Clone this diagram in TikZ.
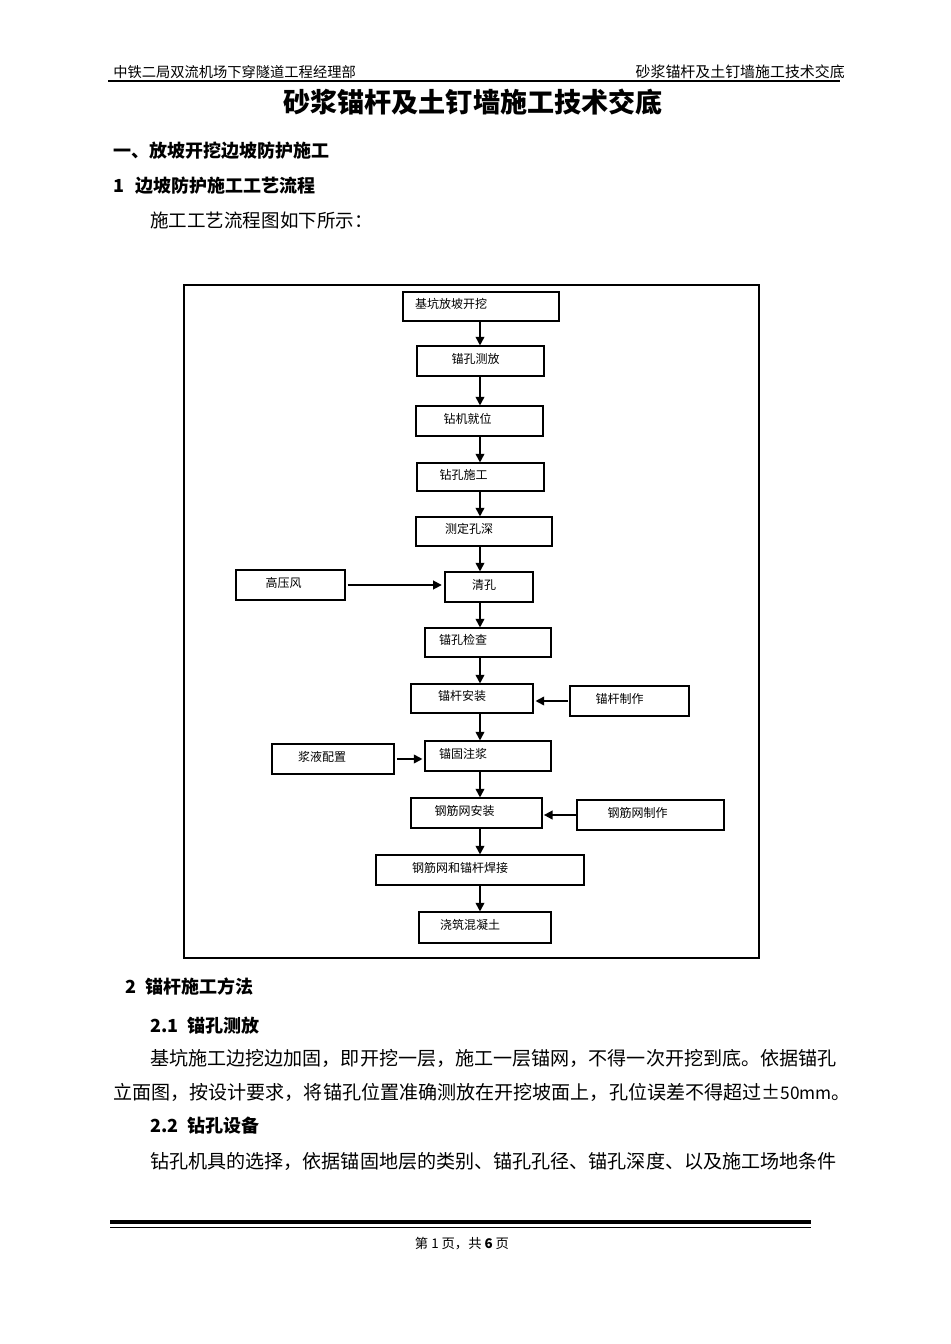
\documentclass[tikz,border=0pt]{standalone}
\usepackage{fontspec}
\setmainfont{Noto Sans CJK SC}
\usetikzlibrary{arrows.meta}

\begin{document}
\begin{tikzpicture}[x=0.75pt,y=-0.75pt,
    flowbox/.style={draw,line width=0.8pt,inner sep=0pt,text height=7pt,text depth=4pt,
        font=\fontsize{9}{10}\selectfont},
    padright/.style={execute at end node={\hspace*{#1}}},
    flowline/.style={->,line width=1.3pt},
    >={Triangle[length=6.5pt,width=6.5pt]},
    body/.style={anchor=west,inner sep=0pt,font=\fontsize{14.3}{16}\selectfont},
    heading/.style={anchor=west,inner sep=0pt,font=\fontsize{13.5}{16}\selectfont\bfseries}]
\useasboundingbox (0,0) rectangle (950,1344);

% page header
\node[anchor=west,inner sep=0pt,font=\fontsize{10.7}{12}\selectfont] (headleft) at (113,72) {中铁二局双流机场下穿隧道工程经理部};
\node[anchor=east,inner sep=0pt,font=\fontsize{11.2}{12}\selectfont] (headright) at (845,72) {砂浆锚杆及土钉墙施工技术交底};
\draw[line width=1.5pt] (108,81) -- (840,81);

\node[inner sep=0pt,font=\fontsize{20.3}{24}\selectfont\bfseries] (title) at (473,102) {砂浆锚杆及土钉墙施工技术交底};

\node[heading] (sec1) at (113,151) {一、放坡开挖边坡防护施工};
\node[heading] (sec11) at (113,186) {1\hspace{0.6em}边坡防护施工工艺流程};
\node[body,font=\fontsize{13.9}{16}\selectfont] (intro) at (150,220) {施工工艺流程图如下所示：};

% flow chart
\draw[line width=0.8pt] (184,285) rectangle (759,958);
\coordinate (spine) at (480,300);

\node[flowbox,minimum width=117pt,minimum height=21.75pt,padright=45pt] (kaiwa) at (481,306.5) {基坑放坡开挖};
\node[flowbox,minimum width=95.25pt,minimum height=22.5pt,padright=7.5pt] (cefang) at (480.5,361) {锚孔测放};
\node[flowbox,minimum width=95.25pt,minimum height=22.5pt,padright=18pt] (jiuwei) at (479.5,421) {钻机就位};
\node[flowbox,minimum width=95.25pt,minimum height=21pt,padright=25.5pt] (zuankong) at (480.5,477) {钻孔施工};
\node[flowbox,minimum width=102pt,minimum height=21.75pt,padright=22.5pt] (kongshen) at (484,531.5) {测定孔深};
\node[flowbox,minimum width=66pt,minimum height=22.5pt,padright=7.5pt] (qingkong) at (489,587) {清孔};
\node[flowbox,minimum width=81.75pt,minimum height=22.5pt,padright=10.5pt] (gaoyafeng) at (290.5,585) {高压风};
\node[flowbox,minimum width=94.5pt,minimum height=21.75pt,padright=37.5pt] (jiancha) at (488,642.5) {锚孔检查};
\node[flowbox,minimum width=91.5pt,minimum height=21.75pt,padright=15pt] (maogan) at (472,698.5) {锚杆安装};
\node[flowbox,minimum width=89.25pt,minimum height=22.5pt,padright=15pt] (maoganzz) at (629.5,701) {锚杆制作};
\node[flowbox,minimum width=94.5pt,minimum height=22.5pt,padright=37.5pt] (zhujiang) at (488,756) {锚固注浆};
\node[flowbox,minimum width=91.5pt,minimum height=22.5pt,padright=16.5pt] (jiangye) at (333,759) {浆液配置};
\node[flowbox,minimum width=98.25pt,minimum height=22.5pt,padright=18pt] (gangjin) at (476.5,813) {钢筋网安装};
\node[flowbox,minimum width=110.25pt,minimum height=22.5pt,padright=19.5pt] (gangjinzz) at (650.5,815) {钢筋网制作};
\node[flowbox,minimum width=156pt,minimum height=22.5pt,padright=30pt] (hanjie) at (480,870) {钢筋网和锚杆焊接};
\node[flowbox,minimum width=99pt,minimum height=23.25pt,padright=22.5pt] (jiaozhu) at (485,927.5) {浇筑混凝土};

\draw[flowline] (kaiwa.south -| spine) -- (cefang.north -| spine);
\draw[flowline] (cefang.south -| spine) -- (jiuwei.north -| spine);
\draw[flowline] (jiuwei.south -| spine) -- (zuankong.north -| spine);
\draw[flowline] (zuankong.south -| spine) -- (kongshen.north -| spine);
\draw[flowline] (kongshen.south -| spine) -- (qingkong.north -| spine);
\draw[flowline] (qingkong.south -| spine) -- (jiancha.north -| spine);
\draw[flowline] (jiancha.south -| spine) -- (maogan.north -| spine);
\draw[flowline] (maogan.south -| spine) -- (zhujiang.north -| spine);
\draw[flowline] (zhujiang.south -| spine) -- (gangjin.north -| spine);
\draw[flowline] (gangjin.south -| spine) -- (hanjie.north -| spine);
\draw[flowline] (hanjie.south -| spine) -- (jiaozhu.north -| spine);

\draw[flowline,shorten <=1.5pt,shorten >=2pt] (gaoyafeng.east) -- (gaoyafeng.east -| qingkong.west);
\draw[flowline,shorten <=1pt,shorten >=1.5pt] (maoganzz.west) -- (maoganzz.west -| maogan.east);
\draw[flowline,shorten <=2pt,shorten >=1.5pt] (jiangye.east) -- (jiangye.east -| zhujiang.west);
\draw[flowline,shorten >=1pt] (gangjinzz.west) -- (gangjinzz.west -| gangjin.east);

% text below the chart
\node[heading] (sec2) at (125,987) {2\hspace{0.5em}锚杆施工方法};
\node[heading] (sec21) at (150,1026) {2.1\hspace{0.5em}锚孔测放};
\node[body] (para1a) at (150,1058) {基坑施工边挖边加固，即开挖一层，施工一层锚网，不得一次开挖到底。依据锚孔};
\node[body] (para1b) at (113,1092) {立面图，按设计要求，将锚孔位置准确测放在开挖坡面上，孔位误差不得超过±{\fontsize{13}{16}\selectfont 50mm}。};
\node[heading] (sec22) at (150,1126) {2.2\hspace{0.5em}钻孔设备};
\node[body] (para2) at (150,1161) {钻孔机具的选择，依据锚固地层的类别、锚孔孔径、锚孔深度、以及施工场地条件};

% page footer
\draw[line width=2.6pt] (110,1222) -- (811,1222);
\draw[line width=0.8pt] (110,1227.5) -- (811,1227.5);
\node[inner sep=0pt,font=\fontsize{10}{12}\selectfont] (pageno) at (462,1244) {第 1 页，共 \textbf{6} 页};
\end{tikzpicture}
\end{document}
